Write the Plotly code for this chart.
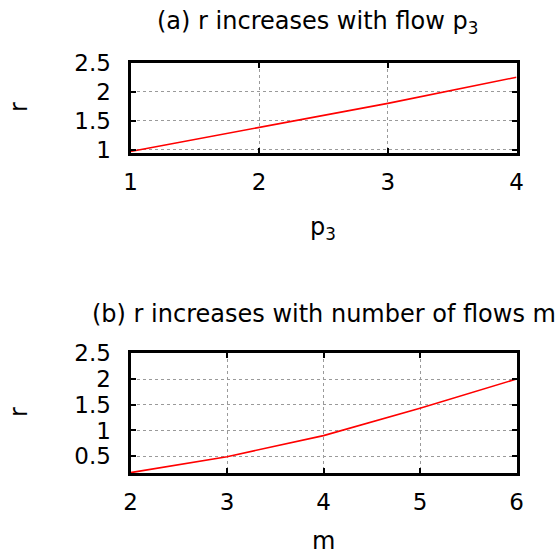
import plotly.graph_objects as go

# Panel (a): r versus flow p3
p3_vals = [1, 2, 3, 4]
r_a = [0.97, 1.38, 1.80, 2.25]

# Panel (b): r versus number of flows m
m_vals = [2, 3, 4, 5, 6]
r_b = [0.18, 0.49, 0.90, 1.43, 2.00]

title_a = "(a) r increases with flow p<sub>3</sub>"
title_b = "(b) r increases with number of flows m"
xlabel_a = "p<sub>3</sub>"
xlabel_b = "m"
ylabel = "r"

ytick_a = [1, 1.5, 2, 2.5]
ytick_b = [0.5, 1, 1.5, 2, 2.5]

W, H = 556, 555
FONT = "DejaVu Sans"


def px_x(v):
    return v / W


def px_y(v):
    return 1 - v / H


fig = go.Figure()
fig.add_trace(go.Scatter(x=p3_vals, y=r_a, mode="lines",
                         line=dict(color="#ff0000", width=1.6),
                         xaxis="x", yaxis="y", showlegend=False))
fig.add_trace(go.Scatter(x=m_vals, y=r_b, mode="lines",
                         line=dict(color="#ff0000", width=1.6),
                         xaxis="x2", yaxis="y2", showlegend=False))

axis_common = dict(
    showline=True, linecolor="black", linewidth=3, mirror="allticks",
    ticks="inside", ticklen=5, tickwidth=2, tickcolor="black",
    showgrid=True, gridcolor="#9a9a9a", gridwidth=1, griddash="dot",
    zeroline=False, tickfont=dict(family=FONT, size=23, color="black"),
    automargin=False,
)

xdom = [px_x(130.5), px_x(516.5)]

fig.update_layout(
    width=W, height=H,
    margin=dict(l=0, r=0, t=0, b=0, autoexpand=False),
    paper_bgcolor="white", plot_bgcolor="white",
    font=dict(family=FONT, color="black"),
    xaxis=dict(domain=xdom, range=[1, 4], tickvals=[1, 2, 3, 4],
               anchor="y", ticklabelstandoff=6, **axis_common),
    yaxis=dict(domain=[px_y(153.3), px_y(62.7)], range=[0.94, 2.5],
               tickvals=ytick_a, ticktext=[f"{v:g}" for v in ytick_a],
               anchor="x", ticklabelstandoff=12, **axis_common),
    xaxis2=dict(domain=xdom, range=[2, 6], tickvals=[2, 3, 4, 5, 6],
                anchor="y2", ticklabelstandoff=6, **axis_common),
    yaxis2=dict(domain=[px_y(473.3), px_y(353.3)], range=[0.167, 2.5],
                tickvals=ytick_b, ticktext=[f"{v:g}" for v in ytick_b],
                anchor="x2", ticklabelstandoff=12, **axis_common),
)

ann_font = dict(family=FONT, size=24, color="black")
annotations = [
    dict(text=title_a, x=px_x(317), y=px_y(22)),
    dict(text=title_b, x=px_x(324), y=px_y(314)),
    dict(text=xlabel_a, x=px_x(323), y=px_y(228)),
    dict(text=xlabel_b, x=px_x(323), y=px_y(541)),
    dict(text=ylabel, x=px_x(19), y=px_y(107), textangle=-90),
    dict(text=ylabel, x=px_x(19), y=px_y(412), textangle=-90),
]
for a in annotations:
    fig.add_annotation(xref="paper", yref="paper", showarrow=False,
                       xanchor="center", yanchor="middle", font=ann_font, **a)

fig.write_html("out.html")
